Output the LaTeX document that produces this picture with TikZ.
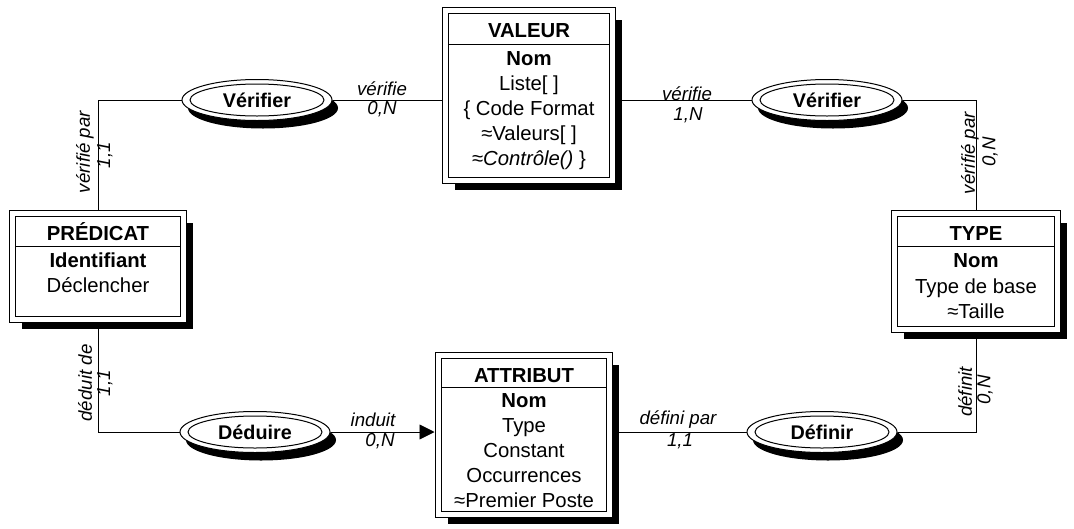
\documentclass[tikz,border=0pt]{standalone}
\usepackage{fontspec}
\setmainfont{Liberation Sans}
\usetikzlibrary{shapes.geometric,shadows,backgrounds,calc,arrows.meta}

\begin{document}
\begin{tikzpicture}[x=1pt,y=-1pt,
  entity/.style={draw, double, double distance=5pt, line width=1pt, fill=white,
    inner sep=0pt,
    drop shadow={shadow xshift=9pt, shadow yshift=-9pt, fill=black, opacity=1}},
  relation/.style={ellipse, draw, line width=1pt, fill=white, inner sep=0pt,
    minimum width=150pt, minimum height=41pt,
    font=\fontsize{19.8}{24}\selectfont\bfseries,
    drop shadow={shadow xshift=6pt, shadow yshift=-8pt, fill=black, opacity=1}},
  inner ring/.style={line width=1pt},
  rule/.style={line width=1pt},
  title/.style={font=\fontsize{20.3}{25}\selectfont\bfseries, anchor=base, inner sep=0pt},
  attr/.style={font=\fontsize{20.3}{25}\selectfont, anchor=base, inner sep=0pt},
  role/.style={font=\fontsize{18.7}{22}\selectfont\itshape, inner sep=0pt},
  link/.style={line width=0.9pt},
  arrowlink/.style={line width=0.9pt, -{Triangle[length=15pt,width=15pt]}}]

\useasboundingbox (0,0) rectangle (1074,528);

% ---------- entities ----------
\node[entity, minimum width=167pt, minimum height=170pt] (valeur)   at (529,95.5)  {};
\node[entity, minimum width=171pt, minimum height=106pt] (predicat) at (98,266.5)  {};
\node[entity, minimum width=163pt, minimum height=116pt] (type)     at (976,271.5) {};
\node[entity, minimum width=171pt, minimum height=159pt] (attribut) at (524,435)   {};

% title separators
\draw[rule] ($(valeur.north west)+(3.5,34.5)$)   -- ($(valeur.north east)+(-3.5,34.5)$);
\draw[rule] ($(predicat.north west)+(3.5,33.5)$) -- ($(predicat.north east)+(-3.5,33.5)$);
\draw[rule] ($(type.north west)+(3.5,33.5)$)     -- ($(type.north east)+(-3.5,33.5)$);
\draw[rule] ($(attribut.north west)+(3.5,32.5)$) -- ($(attribut.north east)+(-3.5,32.5)$);

% VALEUR
\node[title] (valeur-t)  at (529,37)  {VALEUR};
\node[attr]  (valeur-a1) at (529,65)  {\textbf{Nom}};
\node[attr]  (valeur-a2) at (529,90)  {Liste[ ]};
\node[attr]  (valeur-a3) at (529,115) {\{ Code Format};
\node[attr]  (valeur-a4) at (529,140) {≈Valeurs[ ]};
\node[attr]  (valeur-a5) at (529,165) {≈\textit{Contrôle()} \}};

% PRÉDICAT
\node[title] (predicat-t)  at (98,240) {PRÉDICAT};
\node[attr]  (predicat-a1) at (98,267) {\textbf{Identifiant}};
\node[attr]  (predicat-a2) at (98,292) {Déclencher};

% TYPE
\node[title] (type-t)  at (976,240) {TYPE};
\node[attr]  (type-a1) at (976,267) {\textbf{Nom}};
\node[attr]  (type-a2) at (976,293) {Type de base};
\node[attr]  (type-a3) at (976,318) {≈Taille};

% ATTRIBUT
\node[title] (attribut-t)  at (524,382) {ATTRIBUT};
\node[attr]  (attribut-a1) at (524,407) {\textbf{Nom}};
\node[attr]  (attribut-a2) at (524,432) {Type};
\node[attr]  (attribut-a3) at (524,457) {Constant};
\node[attr]  (attribut-a4) at (524,482) {Occurrences};
\node[attr]  (attribut-a5) at (524,507) {≈Premier Poste};

% ---------- relations ----------
\node[relation] (verif1)  at (257,100) {Vérifier};
\node[relation] (verif2)  at (827,100) {Vérifier};
\node[relation] (deduire) at (255,432) {Déduire};
\node[relation] (definir) at (822,432) {Définir};
\foreach \r in {verif1,verif2,deduire,definir}
  \draw[inner ring] (\r.center) ellipse [x radius=67pt, y radius=16pt];

% ---------- connectors ----------
\coordinate (induittip) at ($(deduire -| attribut.west)+(-3.5,0)$);
\begin{scope}[on background layer]
  \draw[link] (predicat) |- (verif1);
  \draw[link] (verif1) -- (verif1 -| valeur);
  \draw[link] (verif2 -| valeur) -- (verif2);
  \draw[link] (verif2) -| (type);
  \draw[link] (predicat) |- (deduire);
  \draw[arrowlink] (deduire) -- (induittip);
  \draw[link] (definir -| attribut) -- (definir);
  \draw[link] (definir) -| (type);
\end{scope}

% ---------- role names and cardinalities ----------
\node[role] (r1a) at (382,89)  {vérifie};
\node[role] (r1b) at (382,109) {0,N};
\node[role] (r2a) at (687,94)  {vérifie};
\node[role] (r2b) at (688,115) {1,N};
\node[role] (r3a) at (373,420) {induit};
\node[role] (r3b) at (380,441) {0,N};
\node[role] (r4a) at (678,420) {défini par};
\node[role] (r4b) at (680,441) {1,1};
\node[role, rotate=90] (r5a) at (85,152)  {vérifié par};
\node[role, rotate=90] (r5b) at (105,155) {1,1};
\node[role, rotate=90] (r6a) at (970,153) {vérifié par};
\node[role, rotate=90] (r6b) at (990,152) {0,N};
\node[role, rotate=90] (r7a) at (85,383)  {déduit de};
\node[role, rotate=90] (r7b) at (105,383) {1,1};
\node[role, rotate=90] (r8a) at (965,392) {définit};
\node[role, rotate=90] (r8b) at (985,390) {0,N};

\end{tikzpicture}
\end{document}
